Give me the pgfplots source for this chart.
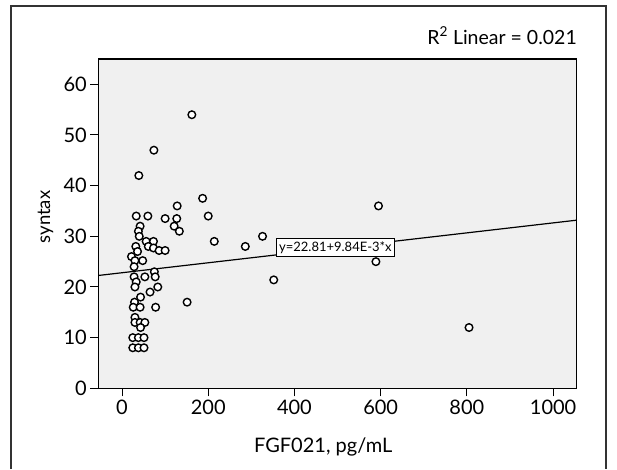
\documentclass[border=0pt]{standalone}
\usepackage{fontspec}
\setmainfont{Lato}
\usepackage{pgfplots}
\pgfplotsset{compat=1.18}

\begin{document}
\begin{tikzpicture}
\useasboundingbox (0pt,0pt) rectangle (617pt,469pt);
% outer frame (open at the bottom, as in the reference crop)
\draw[line width=1.2pt, black!80] (11pt,0pt) -- (11pt,463pt) -- (606pt,463pt) -- (606pt,0pt);
\node[anchor=base east, inner sep=0pt, font=\fontsize{19.5}{21}\selectfont] at (577pt,424.5pt) {R\textsuperscript{2} Linear = 0.021};

\begin{axis}[
    at={(98.3pt,80.7pt)}, anchor=south west,
    scale only axis,
    width=478.5pt, height=329.3pt,
    xmin=-55, xmax=1055,
    ymin=0, ymax=65,
    xtick={0,200,...,1000},
    ytick={0,10,...,60},
    tick align=outside,
    xtick pos=bottom, ytick pos=left,
    major tick length=8pt,
    tick style={line width=1pt, black},
    axis line style={line width=1.2pt, black},
    axis background/.style={fill=black!6},
    /pgf/number format/assume math mode=true,
    /pgf/number format/1000 sep={},
    ticklabel style={font=\fontsize{20}{22}\selectfont},
    xlabel={FGF021, pg/mL},
    ylabel={syntax},
    xlabel style={at={(axis description cs:0.47,-0.178)}, anchor=center, font=\fontsize{20}{22}\selectfont},
    ylabel style={at={(axis description cs:-0.1105,0.52)}, anchor=center, font=\fontsize{18.5}{20}\selectfont},
    clip=false,
]
% fit line y = 22.81 + 9.84E-3 x
\addplot[black, line width=1.2pt] coordinates {(-55,22.27) (1055,33.19)};

\node[draw=black, fill=white, line width=1pt, inner sep=3pt,
      font=\fontsize{13}{15}\selectfont] at (axis cs:495,27.7) {y=22.81+9.84E-3*x};

\addplot[only marks, mark=*, mark size=3.8pt,
         mark options={fill=white, draw=black, line width=1.4pt}] coordinates {
(162,54) (74,47) (39,42) (187,37.5) (128,36) (595,36)
(33,34) (60,34) (200,34) (100,33.5) (127,33.5)
(42,32) (121,32)
(38,31) (133,31)
(40,30) (326,30)
(56,29) (73,29) (214,29)
(32,28) (61,28) (73,27.7) (286,28)
(36,27) (86,27.2) (100,27.2)
(22,26)
(30,25.2) (48,25.2) (589,25)
(28,24)
(75,23)
(28,22) (53,22) (77,22)
(352,21.4)
(33,21)
(30,20) (83,20)
(65,19)
(43,18)
(29,17) (151,17)
(26,16) (42,16) (78,16)
(30,14)
(30,13) (42,13) (53,13)
(43,12) (805,12)
(25,10) (38,10) (51,10)
(25,8) (38,8) (51,8)
};
\end{axis}
\end{tikzpicture}
\end{document}
